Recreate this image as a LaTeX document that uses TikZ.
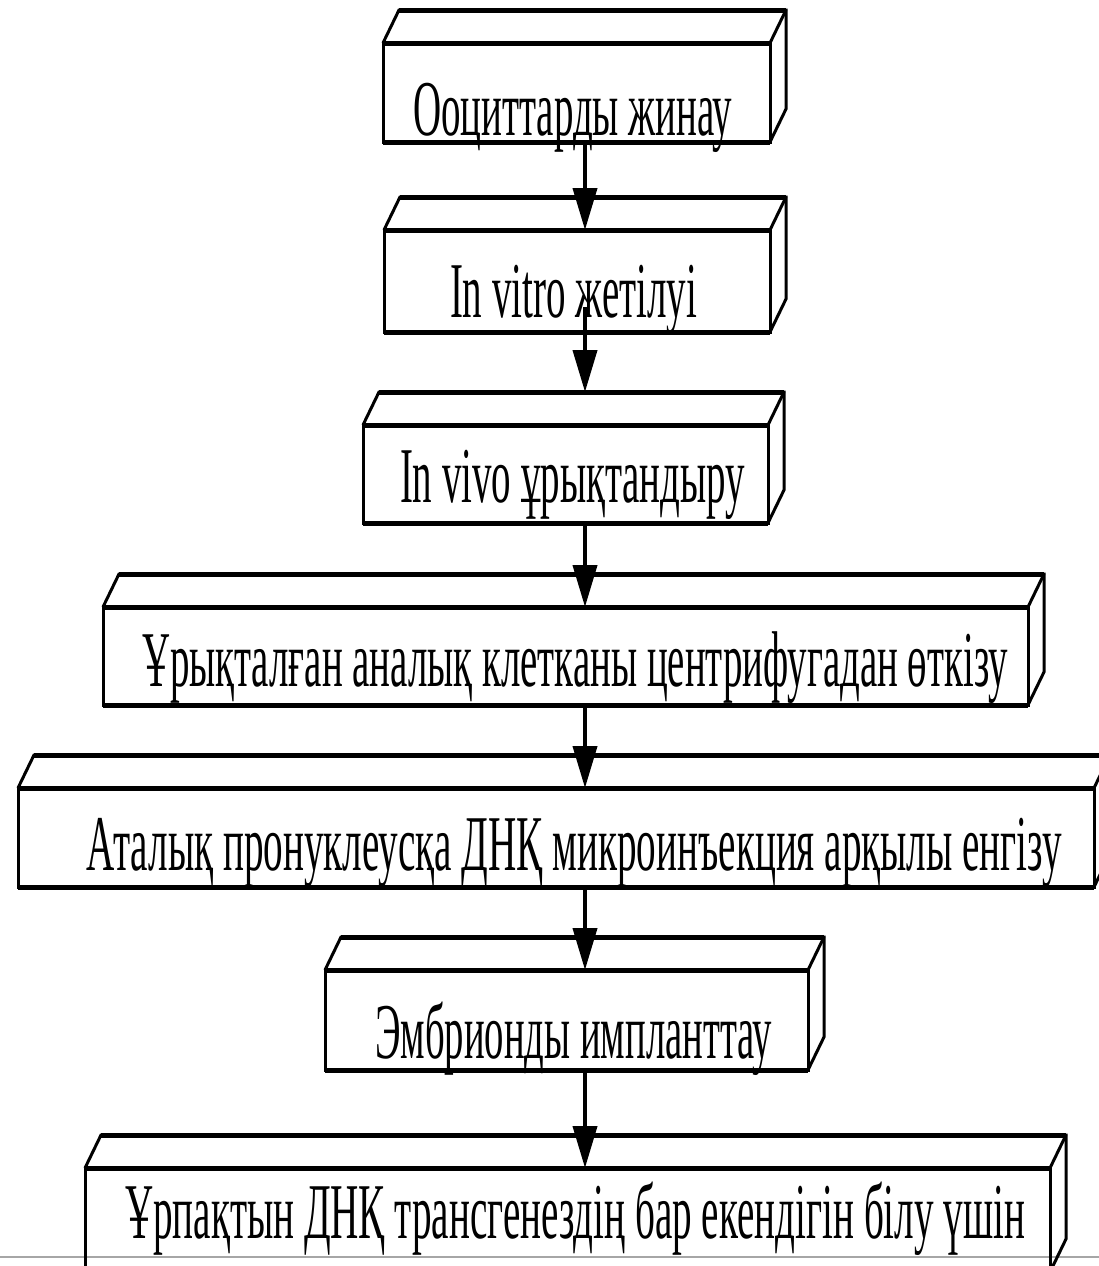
\documentclass[tikz,border=0pt]{standalone}
\usepackage{fontspec}
\setmainfont{Liberation Serif}
\usetikzlibrary{arrows.meta,calc}
\tikzset{
  edgethin/.style={line width=3pt, line join=miter},
  edgethick/.style={line width=5pt},
  face/.style={draw=black, line width=3pt, rectangle, inner sep=0pt, outer sep=0pt, anchor=north west},
  flow/.style={line width=4pt, -{Triangle[length=42pt,width=24pt]}},
  lab/.style={anchor=base, inner sep=0pt, font=\fontsize{79}{79}\selectfont},
}
\newcommand\cuboid[5]{%
  \pgfmathsetmacro\cubw{#4-#2}%
  \pgfmathsetmacro\cubh{#5-#3}%
  \node[face, minimum width=\cubw pt, minimum height=\cubh pt] (#1) at (#2,#3) {};
  \draw[edgethin] (#1.north west) -- ++(16,-33) coordinate (#1-bl)
     -- ($(#1.north east)+(16,-33)$) coordinate (#1-br)
     -- ($(#1.south east)+(16,-33)$) -- (#1.south east);
  \draw[edgethin] (#1.north east) -- (#1-br);
  \draw[edgethick] (#1.north west) -- (#1.north east)
     (#1.south west) -- (#1.south east) (#1-bl) -- (#1-br);
}
\newcommand\boxlabel[5]{%
  \node[lab] (#1) at (#2,#3) {\resizebox{#4pt}{\height}{#5}};
}
\begin{document}
\begin{tikzpicture}[x=1pt,y=-1pt]
\useasboundingbox (0,0) rectangle (1099,1266);
\clip (0,0) rectangle (1099,1266);
\fill[white] (0,0) rectangle (1099,1266);
\draw[black!35, line width=1.5pt] (0,1257) -- (1099,1257);
\coordinate (ax) at (585,0);
\cuboid{b1}{383}{43}{770}{142}
\cuboid{b2}{384}{230}{770}{332}
\cuboid{b3}{363}{425}{768}{523}
\cuboid{b4}{103}{607}{1028}{705}
\cuboid{b5}{18}{788}{1094}{887}
\cuboid{b6}{325}{970}{808}{1070}
\cuboid{b7}{85}{1168}{1050}{1272}
\boxlabel{t1}{572.5}{135}{319}{Ооциттарды жинау}
\boxlabel{t2}{573.5}{317}{247}{In vitro жетілуі}
\boxlabel{t3}{572.5}{502}{345}{In vivo ұрықтандыру}
\boxlabel{t4}{575}{686}{866}{Ұрықталған аналық клетканы центрифугадан өткізу}
\boxlabel{t5}{574.5}{870}{975}{Аталық пронуклеусқа ДНҚ микроинъекция арқылы енгізу}
\boxlabel{t6}{573.5}{1058}{397}{Эмбрионды импланттау}
\boxlabel{t7}{575}{1238}{900}{Ұрпақтын ДНҚ трансгенездің бар екендігін білу үшін}
\draw[flow] (b1.south -| ax) -- (b2.north -| ax);
\draw[flow] ($(b2.south -| ax)+(0,-25)$) -- (b3-bl -| ax);
\draw[flow] (b3.south -| ax) -- (b4.north -| ax);
\draw[flow] (b4.south -| ax) -- (b5.north -| ax);
\draw[flow] (b5.south -| ax) -- (b6.north -| ax);
\draw[flow] (b6.south -| ax) -- (b7.north -| ax);
\end{tikzpicture}
\end{document}
